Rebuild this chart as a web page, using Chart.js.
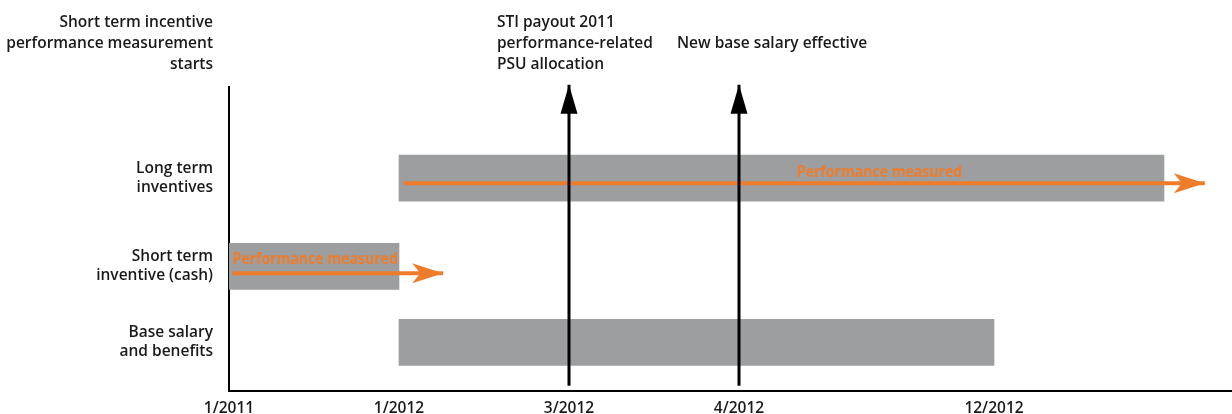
<!DOCTYPE html>
<html>
<head>
<meta charset="UTF-8">
<script src="https://cdn.jsdelivr.net/npm/chart.js@4.4.1/dist/chart.umd.min.js"></script>
<title>Compensation timeline</title>
<style>
  html, body { margin: 0; padding: 0; background: #fff; }
  #timeline { display: block; }
</style>
</head>
<body>
<canvas id="timeline" width="1232" height="414"></canvas>
<script>
// rows (y position on a 0..10 scale, bottom to top)
const rowLabels = [['Long term', 'inventives'], ['Short term', 'inventive (cash)'], ['Base salary', 'and benefits']];
const rowY      = [7.0, 4.1, 1.6];
const barStart  = [1, 0, 1];
const barEnd    = [5.5, 1, 4.5];

// x axis: one unit ~ one step between the marked dates
const tickValues = [0, 1, 2, 3, 4.5];
const tickLabels = ['1/2011', '1/2012', '3/2012', '4/2012', '12/2012'];

// vertical event arrows
const eventX      = [2, 3];
const eventBottom = 0.17;
const eventTop    = 10.07;

// orange "performance measured" arrows
const perfStart = [1.03, 0.02];
const perfEnd   = [5.74, 1.26];
const perfY     = [6.83, 3.87];
const perfText  = ['Performance measured', 'Performance measured'];
const perfTextX = [3.34, 0.02];
const perfTextY = [7.2, 4.34];

// notes above the plot
const noteLines = [
  ['Short term incentive', 'performance measurement', 'starts'],
  ['STI payout 2011', 'performance-related', 'PSU allocation'],
  ['New base salary effective']
];
const noteX     = [-0.094, 1.576, 2.635];
const noteAlign = ['right', 'left', 'left'];
const noteRow   = [0, 0, 1];

const GREY = '#9d9ea0';
const ORANGE = '#ee7d2b';
const INK = '#1a1a1a';
const FONT = '"Open Sans", "Noto Sans", sans-serif';

const datasets = [];
datasets.push({
    type: 'bar',
    indexAxis: 'y',
    data: rowY.map((y, i) => ({ y: y, x: [barStart[i], barEnd[i]] })),
    backgroundColor: GREY,
    barThickness: 46,
    borderWidth: 0,
    order: 3
});
for (let i = 0; i < perfStart.length; i++) {
    datasets.push({
        type: 'line',
        data: [{ x: perfStart[i], y: perfY[i] }, { x: perfEnd[i], y: perfY[i] }],
        borderColor: ORANGE,
        borderWidth: 4,
        borderCapStyle: 'butt',
        pointRadius: 0,
        arrow: 'notch',
        clip: false,
        order: 2
    });
}
for (let i = 0; i < eventX.length; i++) {
    datasets.push({
        type: 'line',
        data: [{ x: eventX[i], y: eventBottom }, { x: eventX[i], y: eventTop }],
        borderColor: '#000',
        borderWidth: 3,
        borderCapStyle: 'butt',
        pointRadius: 0,
        arrow: 'plain',
        clip: false,
        order: 1
    });
}

// arrow heads + texts, positioned through the scales
const decorations = {
    id: 'decorations',
    afterDatasetsDraw(chart) {
        const ctx = chart.ctx;
        const xs = chart.scales.x, ys = chart.scales.y;
        chart.data.datasets.forEach((ds) => {
            if (!ds.arrow) return;
            const a = ds.data[0], b = ds.data[ds.data.length - 1];
            const x0 = xs.getPixelForValue(a.x), y0 = ys.getPixelForValue(a.y);
            const x1 = xs.getPixelForValue(b.x), y1 = ys.getPixelForValue(b.y);
            const ang = Math.atan2(y1 - y0, x1 - x0);
            ctx.save();
            ctx.translate(x1, y1);
            ctx.rotate(ang);
            ctx.fillStyle = ds.borderColor;
            ctx.beginPath();
            if (ds.arrow === 'notch') {
                ctx.moveTo(0, 0);
                ctx.lineTo(-31, -10);
                ctx.lineTo(-23, 0);
                ctx.lineTo(-31, 10);
            } else {
                ctx.moveTo(0, 0);
                ctx.lineTo(-29, -8.5);
                ctx.lineTo(-29, 8.5);
            }
            ctx.closePath();
            ctx.fill();
            ctx.restore();
        });

        ctx.save();
        ctx.fillStyle = ORANGE;
        ctx.font = '700 16px ' + FONT;
        ctx.textAlign = 'left';
        ctx.textBaseline = 'middle';
        perfText.forEach((t, i) => {
            ctx.save();
            ctx.translate(xs.getPixelForValue(perfTextX[i]), ys.getPixelForValue(perfTextY[i]));
            ctx.scale(0.88, 1);
            ctx.fillText(t, 0, 0);
            ctx.restore();
        });

        ctx.fillStyle = INK;
        ctx.font = '600 15.5px ' + FONT;
        noteLines.forEach((lines, i) => {
            ctx.textAlign = noteAlign[i];
            const px = xs.getPixelForValue(noteX[i]);
            lines.forEach((line, j) => {
                ctx.fillText(line, px, 23 + (noteRow[i] + j) * 21);
            });
        });
        ctx.restore();
    }
};

new Chart(document.getElementById('timeline'), {
    type: 'bar',
    data: { datasets: datasets },
    options: {
        responsive: false,
        animation: false,
        events: [],
        layout: { padding: { top: 87, right: 0, left: 0, bottom: 0 } },
        plugins: { legend: { display: false }, tooltip: { enabled: false } },
        scales: {
            x: {
                type: 'linear',
                offset: false,
                min: 0,
                max: 5.9,
                grid: { display: false, drawTicks: false },
                border: { display: true, color: '#000', width: 2 },
                afterBuildTicks: (scale) => { scale.ticks = tickValues.map(v => ({ value: v })); },
                afterFit: (scale) => {
                    scale.height = 23;
                    scale.paddingLeft = 0;
                    scale.paddingRight = 0;
                },
                ticks: {
                    padding: 8,
                    maxRotation: 0,
                    autoSkip: false,
                    color: INK,
                    font: { family: FONT, size: 15.5, weight: '600' },
                    callback: (v) => tickLabels[tickValues.indexOf(v)]
                }
            },
            y: {
                type: 'linear',
                offset: false,
                min: 0,
                max: 10,
                grid: { display: false, drawTicks: false },
                border: { display: true, color: '#000', width: 2 },
                afterBuildTicks: (scale) => { scale.ticks = rowY.map(v => ({ value: v })); },
                afterFit: (scale) => {
                    scale.width = 229;
                    scale.paddingTop = 0;
                    scale.paddingBottom = 0;
                },
                ticks: {
                    padding: 16,
                    autoSkip: false,
                    color: INK,
                    font: { family: FONT, size: 15.5, weight: '600', lineHeight: 1.25 },
                    callback: (v) => rowLabels[rowY.indexOf(v)]
                }
            }
        }
    },
    plugins: [decorations]
});
</script>
</body>
</html>
